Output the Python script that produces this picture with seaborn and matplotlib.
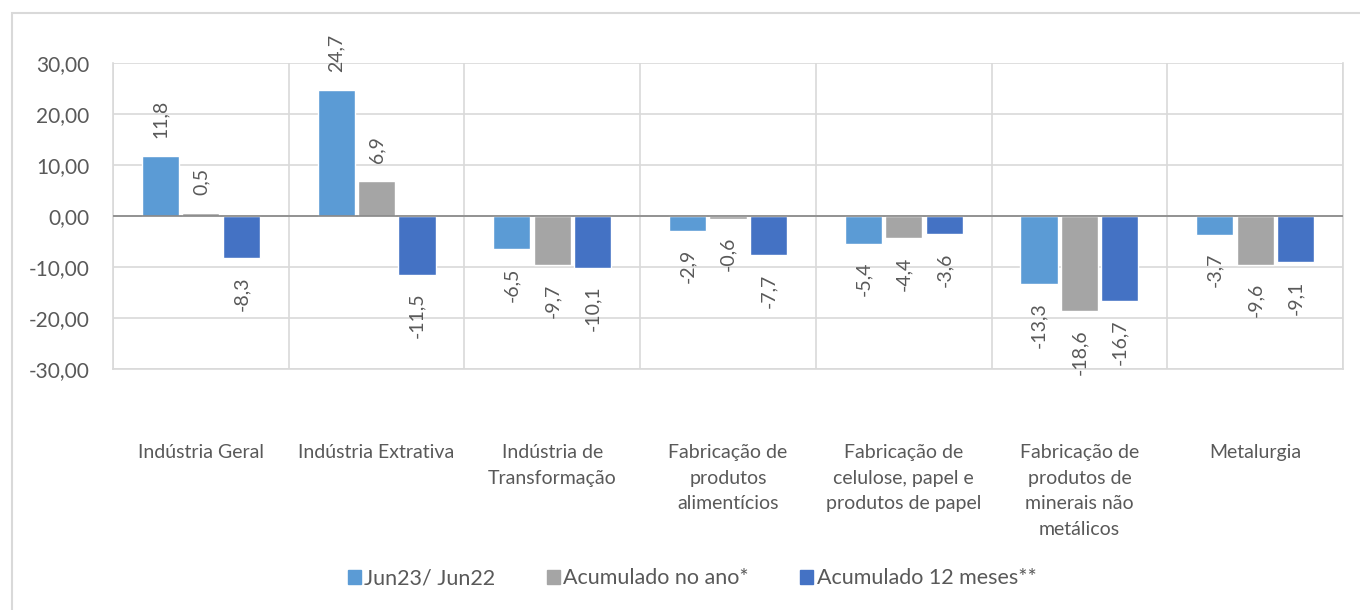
import pandas as pd
import matplotlib
matplotlib.use("Agg")
import matplotlib.pyplot as plt
from matplotlib.patches import Rectangle
import seaborn as sns

# --- dados ---
categorias = [
    "Indústria Geral",
    "Indústria Extrativa",
    "Indústria de\nTransformação",
    "Fabricação de\nprodutos\nalimentícios",
    "Fabricação de\ncelulose, papel e\nprodutos de papel",
    "Fabricação de\nprodutos de\nminerais não\nmetálicos",
    "Metalurgia",
]
series = ["Jun23/ Jun22", "Acumulado no ano*", "Acumulado 12 meses**"]
jun23_jun22 = [11.8, 24.7, -6.5, -2.9, -5.4, -13.3, -3.7]
acum_ano = [0.5, 6.9, -9.7, -0.6, -4.4, -18.6, -9.6]
acum_12m = [-8.3, -11.5, -10.1, -7.7, -3.6, -16.7, -9.1]
y_ticks = [30, 20, 10, 0, -10, -20, -30]

cores = ["#5B9BD5", "#A5A5A5", "#4472C4"]
texto = "#595959"
grade = "#D9D9D9"

df = pd.DataFrame({
    "categoria": categorias * 3,
    "serie": [s for s in series for _ in categorias],
    "valor": jun23_jun22 + acum_ano + acum_12m,
})

sns.set_theme(style="white")
plt.rcParams["font.family"] = ["Lato", "DejaVu Sans"]

fig = plt.figure(figsize=(13.6, 6.1), dpi=100)
ax = fig.add_axes([113 / 1360, 1 - 369 / 610, 1230 / 1360, 306 / 610])

sns.barplot(data=df, x="categoria", y="valor", hue="serie", order=categorias,
            hue_order=series, palette=cores, width=0.69, gap=0.08,
            saturation=1, ax=ax, legend=True)

# rótulos de dados
for cont in ax.containers:
    for bar in cont:
        v = bar.get_height()
        x = bar.get_x() + bar.get_width() / 2
        lbl = f"{v:.1f}".replace(".", ",")
        if v >= 0:
            ax.annotate(lbl, (x, v), xytext=(0, 13), textcoords="offset points",
                        rotation=90, ha="center", va="bottom", fontsize=14,
                        color=texto, annotation_clip=False)
        else:
            ax.annotate(lbl, (x, v), xytext=(0, -13), textcoords="offset points",
                        rotation=90, ha="center", va="top", fontsize=14,
                        color=texto, annotation_clip=False)

ax.set_ylim(-30, 30)
ax.set_xlim(-0.5, len(categorias) - 0.5)
ax.set_yticks(y_ticks)
ax.set_yticklabels([f"{t:.2f}".replace(".", ",") for t in y_ticks])
ax.set_xticks(range(len(categorias)))
ax.set_xticklabels(categorias, va="top", linespacing=1.62)
ax.set_xticks([i - 0.5 for i in range(len(categorias) + 1)], minor=True)
ax.tick_params(axis="y", length=0, pad=17, labelsize=15, labelcolor=texto)
ax.tick_params(axis="x", which="major", length=0, pad=54, labelsize=14, labelcolor=texto)
ax.tick_params(axis="x", which="minor", length=0)
ax.grid(axis="y", color=grade, linewidth=1.2)
ax.grid(axis="x", which="minor", color=grade, linewidth=1.2)
ax.set_axisbelow(True)
ax.axhline(0, color="#868686", linewidth=1.2, zorder=3)
for s in ax.spines.values():
    s.set_visible(True)
    s.set_color(grade)
    s.set_linewidth(1.2)
ax.spines["top"].set_visible(False)
ax.set_xlabel("")
ax.set_ylabel("")

leg = ax.get_legend()
leg.remove()
handles = [Rectangle((0, 0), 1, 1, color=c) for c in cores]
fig.legend(handles, series, loc="center", bbox_to_anchor=(0.509, 0.052), ncol=3,
           frameon=False, fontsize=15.5, handlelength=0.6, handleheight=0.6,
           handletextpad=0.15, columnspacing=2.4, labelcolor=texto)

fig.patches.append(Rectangle((12 / 1360, -0.01), 1.0, 1 - 13 / 610 + 0.01,
                             transform=fig.transFigure, fill=False,
                             edgecolor=grade, linewidth=1.5))

fig.savefig("out.png", dpi=100)
